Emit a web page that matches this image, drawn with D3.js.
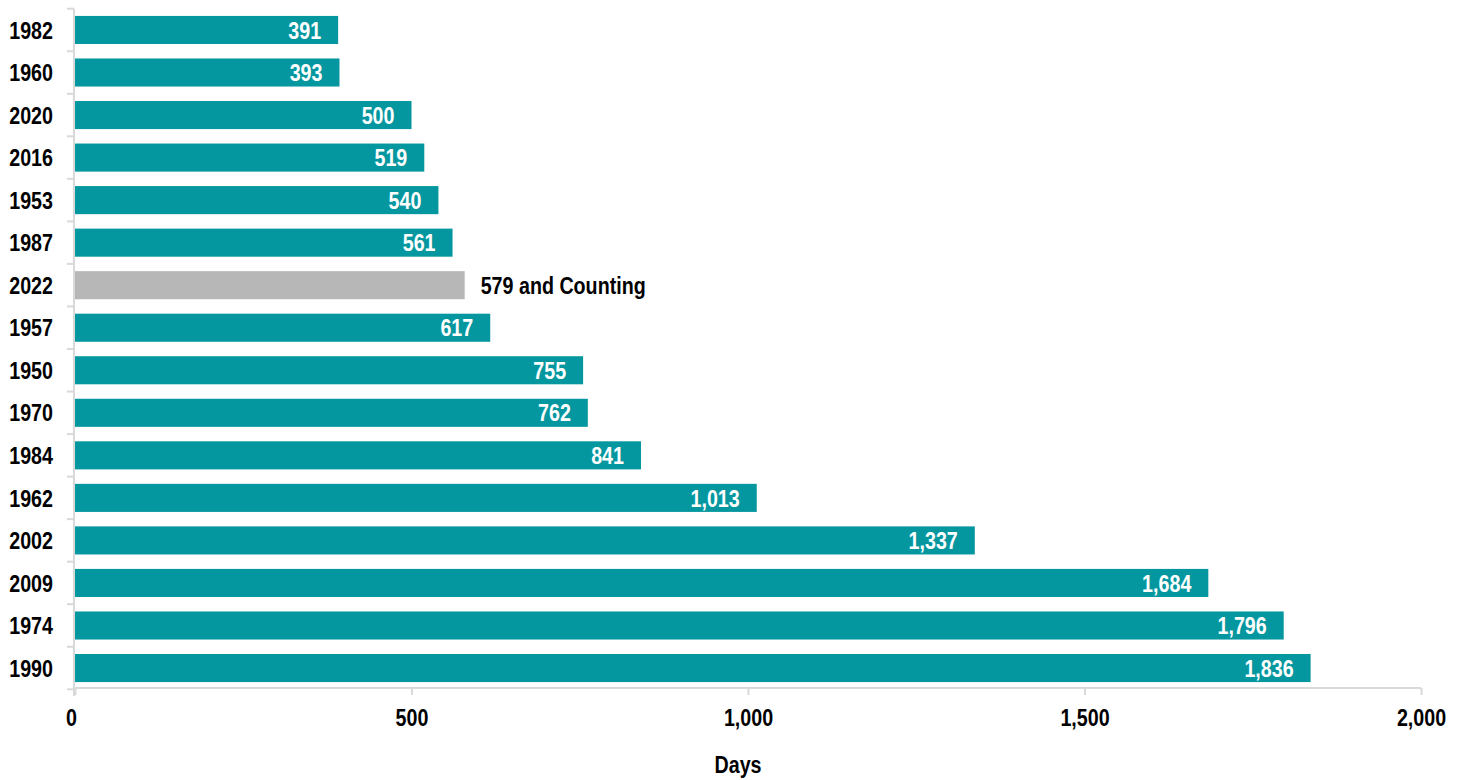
<!DOCTYPE html>
<html><head><meta charset="utf-8">
<script src="https://cdn.jsdelivr.net/npm/d3@7"></script>
<style>
body{margin:0;background:#fff;}
text{font-family:"Liberation Sans Narrow","Arial Narrow","Liberation Sans",Arial,sans-serif;font-weight:bold;}
</style></head>
<body><svg id="c" width="1462" height="780"></svg>
<script>
const categories = ["1982","1960","2020","2016","1953","1987","2022","1957","1950","1970","1984","1962","2002","2009","1974","1990"];
const days = [391,393,500,519,540,561,579,617,755,762,841,1013,1337,1684,1796,1836];
const highlight = "2022";
const highlightLabel = " and Counting";
const xTicks = [0,500,1000,1500,2000];
const xTitle = "Days";

const svg = d3.select("#c");
const x = d3.scaleLinear().domain([0,2000]).range([75,1421]);
const y = d3.scaleBand().domain(categories).range([8.7,689.3]).paddingInner(0.34).paddingOuter(0.17);
const fmt = d3.format(",");
const teal = "#05979f", grey = "#b7b7b7", axisCol = "#d9d9d9";
const SX = 0.82, FS = 24;

// bars
svg.selectAll("rect.bar").data(categories).enter().append("rect")
  .attr("x", x(0)).attr("y", d=>y(d))
  .attr("width", (d,i)=>x(days[i])-x(0)).attr("height", y.bandwidth())
  .attr("fill", d=> d===highlight?grey:teal);

// labels
svg.selectAll("text.val").data(categories).enter().append("text")
  .attr("transform", (d,i)=>`translate(${d===highlight ? x(days[i])+16 : x(days[i])-17},${y(d)+y.bandwidth()/2}) scale(${SX},1)`)
  .attr("dy","0.36em")
  .attr("text-anchor", d=> d===highlight?"start":"end")
  .attr("fill", d=> d===highlight?"#000":"#fff")
  .attr("font-size", FS)
  .text((d,i)=> d===highlight ? fmt(days[i])+highlightLabel : fmt(days[i]));

// y axis
const yAxisG = svg.append("g");
yAxisG.append("line").attr("x1",74).attr("x2",74).attr("y1",8.7).attr("y2",696).attr("stroke",axisCol).attr("stroke-width",2);
const bounds = categories.map(d=>y(d)-y.step()*y.paddingInner()/2);
bounds.push(689.3);
yAxisG.selectAll("line.t").data(bounds).enter().append("line")
  .attr("x1",67).attr("x2",74).attr("y1",d=>d).attr("y2",d=>d)
  .attr("stroke",axisCol).attr("stroke-width",2);
yAxisG.selectAll("text").data(categories).enter().append("text")
  .attr("transform", d=>`translate(53,${y(d)+y.bandwidth()/2}) scale(${SX},1)`).attr("dy","0.36em")
  .attr("text-anchor","end").attr("font-size",FS).attr("fill","#000").text(d=>d);

// x axis
const xAxisG = svg.append("g").attr("transform","translate(0,688)");
const xa = d3.axisBottom(x).tickValues(xTicks).tickFormat(fmt).tickSize(7).tickPadding(14);
xAxisG.call(xa);
xAxisG.select(".domain").attr("stroke",axisCol).attr("stroke-width",2).attr("d","M74,0H1421");
xAxisG.selectAll(".tick line").attr("stroke",axisCol).attr("stroke-width",2);
xAxisG.selectAll(".tick text").attr("font-size",FS).attr("fill","#000")
  .attr("font-family",'"Liberation Sans Narrow","Arial Narrow","Liberation Sans",Arial,sans-serif').attr("font-weight","bold")
  .attr("transform",`scale(${SX},1)`)
  .attr("x", d=> (d===0?-4:0)/SX);

svg.append("text").attr("transform",`translate(738,773) scale(${SX},1)`).attr("text-anchor","middle")
  .attr("font-size",FS).attr("fill","#000").text(xTitle);
</script></body></html>
